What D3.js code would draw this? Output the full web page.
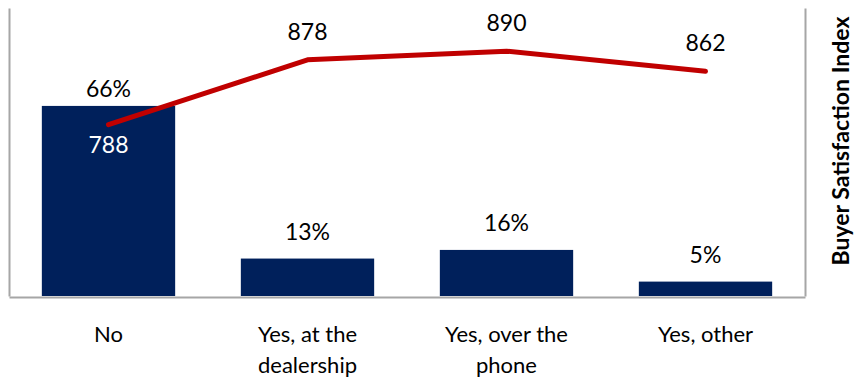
<!DOCTYPE html>
<html>
<head>
<meta charset="utf-8">
<script src="https://cdn.jsdelivr.net/npm/d3@7/dist/d3.min.js"></script>
<style>
  html, body { margin: 0; padding: 0; background: #fff; }
  svg text { font-family: Lato, "Open Sans", sans-serif; }
</style>
</head>
<body>
<svg id="chart" width="864" height="379"></svg>
<script>
// Data
const categories = [["No"], ["Yes, at the", "dealership"], ["Yes, over the", "phone"], ["Yes, other"]];
const sharePct = [66, 13, 16, 5];
const satisfaction = [788, 878, 890, 862];
const shareDomain = [0, 100];
const indexDomain = [550, 950];

const svg = d3.select("#chart");
const m = { left: 9, right: 805, top: 8, bottom: 296 };

const x = d3.scaleBand()
  .domain(d3.range(categories.length))
  .range([m.left, m.right])
  .paddingInner(0.33)
  .paddingOuter(0.165);

const yBar = d3.scaleLinear().domain(shareDomain).range([m.bottom, m.top]);
const yLine = d3.scaleLinear().domain(indexDomain).range([m.bottom, m.top]);

// Bars
svg.append("g").selectAll("rect")
  .data(sharePct)
  .join("rect")
  .attr("x", (d, i) => x(i))
  .attr("y", d => yBar(d))
  .attr("width", x.bandwidth())
  .attr("height", d => yBar(0) - yBar(d))
  .attr("fill", "#00205b");

// Axis lines (no ticks)
const axisColor = "#a6a6a6";
svg.append("g")
  .attr("transform", `translate(${m.left},0)`)
  .call(d3.axisLeft(yBar).tickValues([]).tickSizeOuter(0))
  .call(g => g.select(".domain").attr("stroke", axisColor).attr("stroke-width", 2));
svg.append("g")
  .attr("transform", `translate(${m.right},0)`)
  .call(d3.axisRight(yLine).tickValues([]).tickSizeOuter(0))
  .call(g => g.select(".domain").attr("stroke", axisColor).attr("stroke-width", 2));
svg.append("g")
  .attr("transform", `translate(0,${m.bottom + 1})`)
  .call(d3.axisBottom(x).tickValues([]).tickSizeOuter(0))
  .call(g => g.select(".domain").attr("stroke", axisColor).attr("stroke-width", 2));

// Bar value labels (the tall first bar keeps its label tucked closer)
svg.append("g").selectAll("text")
  .data(sharePct)
  .join("text")
  .attr("x", (d, i) => x(i) + x.bandwidth() / 2)
  .attr("y", (d, i) => yBar(d) - (i === 0 ? 9 : 19))
  .attr("text-anchor", "middle")
  .attr("font-size", 23)
  .attr("fill", "#000")
  .text(d => d + "%");

// Satisfaction line
const cx = i => x(i) + x.bandwidth() / 2;
const line = d3.line().x((d, i) => cx(i)).y(d => yLine(d));
svg.append("path")
  .datum(satisfaction)
  .attr("d", line)
  .attr("fill", "none")
  .attr("stroke", "#c00000")
  .attr("stroke-width", 5)
  .attr("stroke-linecap", "round")
  .attr("stroke-linejoin", "round");

// Satisfaction labels
svg.append("g").selectAll("text")
  .data(satisfaction)
  .join("text")
  .attr("x", (d, i) => cx(i))
  .attr("y", (d, i) => i === 0 ? yLine(d) + 28 : yLine(d) - 20)
  .attr("text-anchor", "middle")
  .attr("font-size", 23)
  .attr("fill", (d, i) => i === 0 ? "#fff" : "#000")
  .text(d => d);

// Category labels
const cat = svg.append("g").selectAll("text")
  .data(categories)
  .join("text")
  .attr("x", (d, i) => cx(i))
  .attr("y", 342)
  .attr("text-anchor", "middle")
  .attr("font-size", 22)
  .attr("fill", "#000");
cat.selectAll("tspan")
  .data(d => d)
  .join("tspan")
  .attr("x", function () { return d3.select(this.parentNode).attr("x"); })
  .attr("dy", (d, j) => j === 0 ? 0 : 31)
  .text(d => d);

// Right axis title
svg.append("text")
  .attr("transform", `translate(849,141) rotate(-90)`)
  .attr("text-anchor", "middle")
  .attr("font-size", 23)
  .attr("font-weight", "bold")
  .attr("fill", "#000")
  .text("Buyer Satisfaction Index");
</script>
</body>
</html>
